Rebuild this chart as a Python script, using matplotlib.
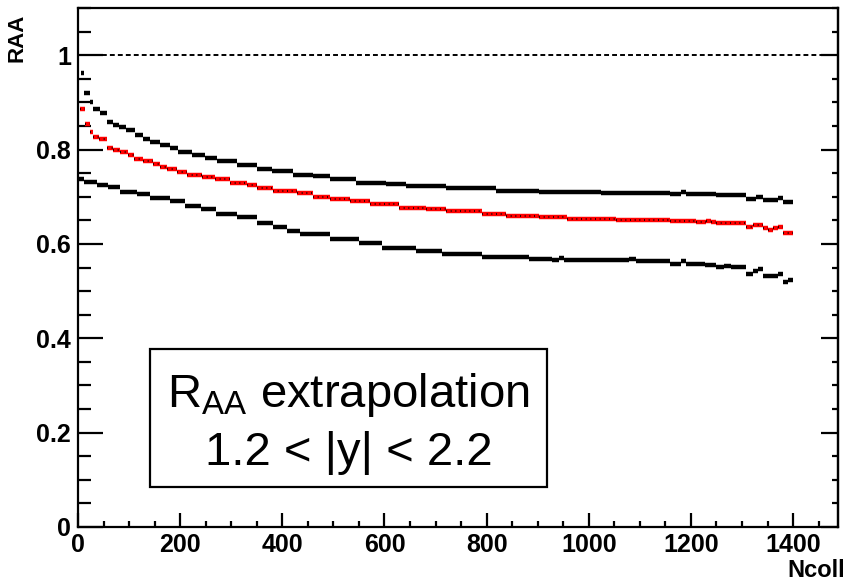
import matplotlib
matplotlib.use("Agg")
import matplotlib.pyplot as plt
import numpy as np
from matplotlib.patches import Rectangle
from matplotlib.ticker import MultipleLocator, FuncFormatter

plt.rcParams['font.family'] = ['Liberation Sans', 'DejaVu Sans']
plt.rcParams['mathtext.fontset'] = 'custom'
plt.rcParams['mathtext.rm'] = 'Liberation Sans'
plt.rcParams['mathtext.it'] = 'Liberation Sans:italic'

# Ncoll bin edges and R_AA values (one value per segment)
upper_edges = [5, 11, 24, 30, 44, 56, 69, 81, 93, 112, 128, 140, 161, 180, 196, 223, 249, 272,
               311, 350, 380, 421, 460, 493, 545, 604, 643, 721, 819, 902, 1000, 1023, 1160,
               1181, 1191, 1250, 1308, 1328, 1341, 1371, 1380, 1400]
upper_raa = [0.962, 0.919, 0.900, 0.886, 0.877, 0.859, 0.853, 0.848, 0.841, 0.830, 0.823, 0.817,
             0.809, 0.803, 0.794, 0.788, 0.782, 0.775, 0.768, 0.758, 0.754, 0.747, 0.743, 0.737,
             0.730, 0.727, 0.723, 0.718, 0.713, 0.711, 0.709, 0.708, 0.705, 0.711, 0.705, 0.703,
             0.696, 0.699, 0.694, 0.697, 0.688]

central_edges = [3, 13, 24, 30, 42, 56, 69, 83, 97, 110, 128, 147, 161, 175, 194, 214, 243, 268,
                 298, 331, 350, 381, 428, 460, 493, 532, 571, 629, 682, 721, 791, 838, 902, 957,
                 1053, 1160, 1209, 1230, 1240, 1250, 1308, 1322, 1341, 1351, 1361, 1371, 1380, 1400]
central_raa = [0.885, 0.855, 0.838, 0.826, 0.822, 0.803, 0.800, 0.794, 0.788, 0.781, 0.775, 0.769,
               0.764, 0.759, 0.753, 0.747, 0.742, 0.737, 0.730, 0.724, 0.718, 0.712, 0.707, 0.700,
               0.695, 0.691, 0.684, 0.677, 0.673, 0.669, 0.663, 0.660, 0.657, 0.653, 0.651, 0.648,
               0.647, 0.649, 0.647, 0.644, 0.635, 0.640, 0.633, 0.629, 0.633, 0.636, 0.624]

lower_edges = [0, 11, 38, 58, 83, 116, 141, 180, 210, 240, 270, 311, 350, 381, 409, 434, 493, 551,
               596, 662, 713, 791, 863, 883, 928, 941, 951, 1078, 1092, 1160, 1181, 1191, 1228,
               1250, 1264, 1279, 1308, 1322, 1332, 1341, 1371, 1380, 1390, 1400]
lower_raa = [0.737, 0.731, 0.724, 0.720, 0.711, 0.705, 0.698, 0.690, 0.681, 0.673, 0.664, 0.656,
             0.644, 0.635, 0.628, 0.621, 0.611, 0.601, 0.592, 0.586, 0.579, 0.573, 0.572, 0.568,
             0.565, 0.570, 0.565, 0.567, 0.563, 0.558, 0.564, 0.558, 0.556, 0.551, 0.553, 0.551,
             0.537, 0.542, 0.546, 0.531, 0.537, 0.520, 0.523]

reference_raa = 1.0

fig = plt.figure(figsize=(8.46, 5.84), dpi=100)
ax = fig.add_axes([78 / 846, 1 - 527 / 584, 760 / 846, 519 / 584])


def draw_segments(edges, vals, color, lw=3.2):
    edges = np.asarray(edges, dtype=float)
    ax.hlines(vals, edges[:-1], edges[1:], colors=color, linewidth=lw, capstyle='butt', zorder=3)
    return edges


draw_segments(upper_edges, upper_raa, 'black')
draw_segments(lower_edges, lower_raa, 'black')
e = draw_segments(central_edges, central_raa, '#ff0000')
# thin black points sitting inside the red band
ax.hlines(central_raa, e[:-1], e[1:], colors='black', linewidth=1.2,
          linestyles=(0, (0.6, 2.2)), zorder=4)

ax.axhline(reference_raa, color='black', linewidth=1.4, linestyle=(0, (2.5, 1.6)), zorder=2)

ax.set_xlim(0, 1488)
ax.set_ylim(0, 1.1)

ax.xaxis.set_major_locator(MultipleLocator(200))
ax.xaxis.set_minor_locator(MultipleLocator(50))
ax.yaxis.set_major_locator(MultipleLocator(0.2))
ax.yaxis.set_minor_locator(MultipleLocator(0.05))
ax.yaxis.set_major_formatter(FuncFormatter(lambda v, p: '%g' % round(v, 2)))

for s in ax.spines.values():
    s.set_linewidth(1.6)

ax.tick_params(axis='x', which='major', direction='in', length=10, width=1.6,
               labelsize=18, pad=4)
ax.tick_params(axis='x', which='minor', direction='in', length=4, width=1.6)
ax.tick_params(axis='y', which='major', direction='in', length=18, width=1.6,
               labelsize=18, pad=5)
ax.tick_params(axis='y', which='minor', direction='in', length=9, width=1.6)
for lab in ax.get_xticklabels() + ax.get_yticklabels():
    lab.set_fontweight('bold')

# ticks on the right edge (shorter, no labels)
sec = ax.secondary_yaxis('right')
sec.yaxis.set_major_locator(MultipleLocator(0.2))
sec.yaxis.set_minor_locator(MultipleLocator(0.05))
sec.tick_params(which='major', direction='in', length=12, width=1.6, labelright=False)
sec.tick_params(which='minor', direction='in', length=4, width=1.6)
sec.spines['right'].set_linewidth(1.6)

ax.set_xlabel('Ncoll', fontsize=17, fontweight='bold', ha='right', va='top')
ax.xaxis.set_label_coords(1.009, -0.062)
ax.set_ylabel('RAA', fontsize=16, fontweight='bold', ha='right', va='bottom')
ax.yaxis.set_label_coords(-0.066, 0.99)

# label box
ax.add_patch(Rectangle((0.0947, 0.0771), 0.5223, 0.2659, transform=ax.transAxes,
                       facecolor='white', edgecolor='black', linewidth=1.6, zorder=5))
ax.text(0.356, 0.231, r'R$_{\mathrm{AA}}$ extrapolation', transform=ax.transAxes,
        ha='center', va='baseline', fontsize=34, zorder=6)
ax.text(0.356, 0.119, '1.2 < |y| < 2.2', transform=ax.transAxes,
        ha='center', va='baseline', fontsize=34, zorder=6)

fig.savefig('out.png', dpi=100)
